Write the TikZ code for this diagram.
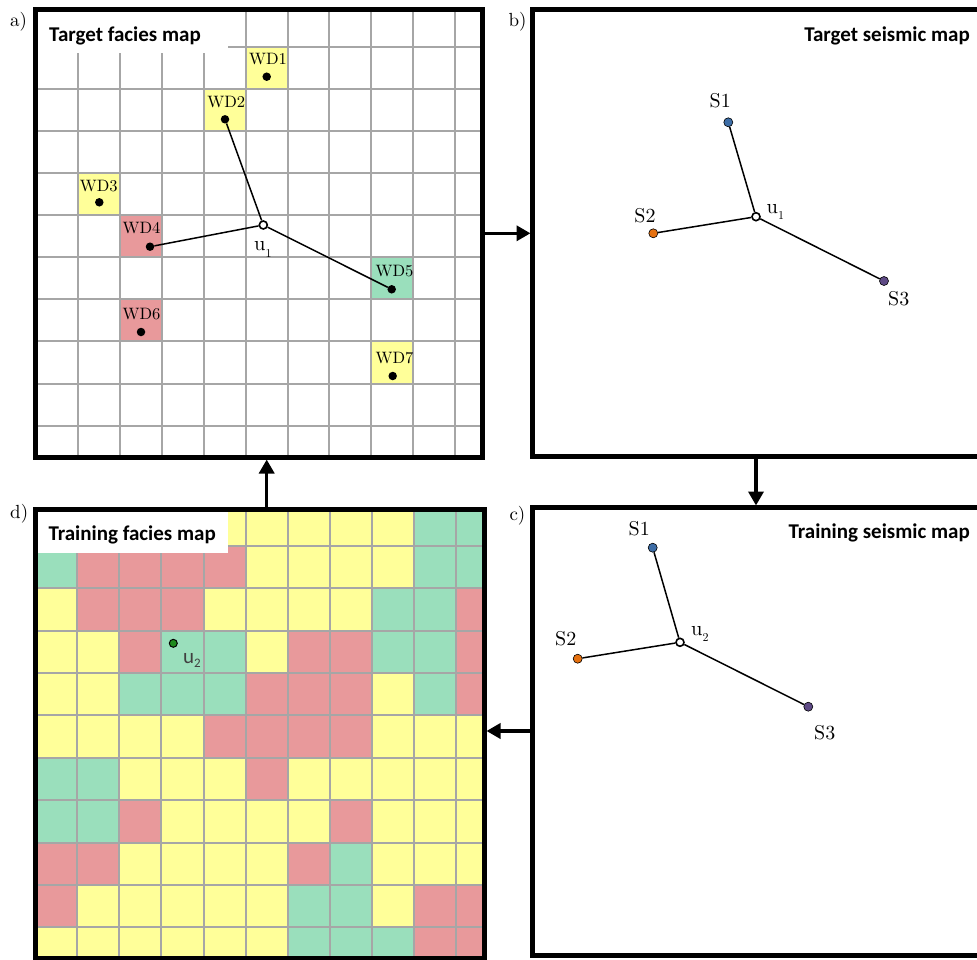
\documentclass[tikz,border=0pt]{standalone}
\usepackage{fontspec}
\newfontfamily\calib{Carlito}
\newfontfamily\lmten{lmroman10-regular}[Extension=.otf]
\usetikzlibrary{arrows.meta}
\definecolor{cY}{HTML}{FFFF99}
\definecolor{cR}{HTML}{E8999B}
\definecolor{cG}{HTML}{9ADFBC}
\definecolor{gridgray}{HTML}{A6A6A6}
\definecolor{sblue}{HTML}{3D6DA6}
\definecolor{sorange}{HTML}{E5700F}
\definecolor{spurple}{HTML}{5E4A85}
\definecolor{udark}{HTML}{1E8A1E}
\definecolor{utext}{HTML}{404040}
\tikzset{
  frame/.style={line width=5pt, draw=black},
  gridline/.style={line width=2pt, draw=gridgray},
  title/.style={font=\calib\bfseries\fontsize{21}{21}\selectfont, inner sep=0pt},
  wdlab/.style={font=\lmten\fontsize{16.5}{16.5}\selectfont, inner sep=0pt},
  slab/.style={font=\lmten\fontsize{20}{20}\selectfont, inner sep=0pt},
  ulab/.style={font=\lmten\fontsize{20.5}{20.5}\selectfont, inner sep=0pt, anchor=base west},
  plab/.style={font=\lmten\fontsize{19}{19}\selectfont, inner sep=0pt, anchor=base west},
  blackdot/.style={circle, fill=black, inner sep=0pt, minimum size=8.5pt},
  opendot/.style={circle, draw=black, fill=white, line width=1.6pt, inner sep=0pt, minimum size=8pt},
  sdot/.style={circle, draw=black, line width=0.6pt, inner sep=0pt, minimum size=9pt},
  link/.style={line width=1.5pt, draw=black},
  arr/.style={line width=3.5pt, draw=black, -{Triangle[length=14pt,width=15pt]}}
}
\newcommand{\usub}[1]{u\raisebox{-6.5pt}{\fontsize{12}{12}\selectfont #1}}
\begin{document}
\begin{tikzpicture}[x=1pt,y=-1pt]
\useasboundingbox (0,0) rectangle (977,960);
\fill[white] (0,0) rectangle (977,960);

% ---------------- panel a ----------------
\begin{scope}
  \clip (35.5,9.5) rectangle (482.5,457.5);
  \foreach \c/\r/\col in {5/1/cY,4/2/cY,1/4/cY,2/5/cR,8/6/cG,2/7/cR,8/8/cY}
    \fill[\col] ({36.44+\c*41.86},{4.6+\r*42.1}) rectangle ++(41.86,42.1);
  \foreach \k in {1,...,10}
    \draw[gridline] ({36.44+\k*41.86},0) -- ({36.44+\k*41.86},470);
  \foreach \k in {1,...,10}
    \draw[gridline] (30,{4.6+\k*42.1}) -- (490,{4.6+\k*42.1});
  \fill[white] (38,12) rectangle (228,53.3);
\end{scope}
\node[title, anchor=base west] (ta) at (49,42) {Target facies map};
\draw[frame] (35.5,9.5) rectangle (482.5,457.5);
\node[plab] (la) at (10,26.7) {a)};

\node[blackdot] (wd1) at (266.7,76.7) {};
\node[blackdot] (wd2) at (225,119.3) {};
\node[blackdot] (wd3) at (99.3,202.3) {};
\node[blackdot] (wd4) at (150,246.7) {};
\node[blackdot] (wd5) at (391.7,289.3) {};
\node[blackdot] (wd6) at (141,332) {};
\node[blackdot] (wd7) at (392.7,376) {};
\node[wdlab] (wd1l) at (268,59.2) {WD1};
\node[wdlab] (wd2l) at (226.2,101.8) {WD2};
\node[wdlab] (wd3l) at (98.8,186) {WD3};
\node[wdlab] (wd4l) at (141.5,228.5) {WD4};
\node[wdlab] (wd5l) at (394.5,270.8) {WD5};
\node[wdlab] (wd6l) at (141.5,314.2) {WD6};
\node[wdlab] (wd7l) at (394.5,358.2) {WD7};
\node[opendot] (ua) at (263.3,225) {};
\draw[link] (ua) -- (wd2);
\draw[link] (ua) -- (wd4);
\draw[link] (ua) -- (wd5);
\node[ulab] (ual) at (254,250.7) {\usub{1}};

% ---------------- panel b ----------------
\draw[frame] (532.5,9.5) rectangle (995,456);
\node[plab] (lb) at (508.3,26.7) {b)};
\node[title, anchor=base east] (tb) at (970,41.7) {Target seismic map};
\node[sdot, fill=sblue] (bs1) at (728.3,122.3) {};
\node[sdot, fill=sorange] (bs2) at (653.3,233.3) {};
\node[sdot, fill=spurple] (bs3) at (884,281) {};
\node[opendot] (ub) at (756,216.7) {};
\draw[link] (ub) -- (bs1);
\draw[link] (ub) -- (bs2);
\draw[link] (ub) -- (bs3);
\node[slab] (bs1l) at (720.3,100.3) {S1};
\node[slab] (bs2l) at (645,215.3) {S2};
\node[slab] (bs3l) at (898.7,298.7) {S3};
\node[ulab] (ubl) at (766.5,213.3) {\usub{1}};

% ---------------- panel c ----------------
\draw[frame] (532,507.5) rectangle (995,955.5);
\node[plab] (lc) at (509.3,520) {c)};
\node[title, anchor=base east] (tc) at (970,538.3) {Training seismic map};
\node[sdot, fill=sblue] (cs1) at (652.7,547.7) {};
\node[sdot, fill=sorange] (cs2) at (577.7,658.7) {};
\node[sdot, fill=spurple] (cs3) at (808.3,706.7) {};
\node[opendot] (uc) at (680,642.3) {};
\draw[link] (uc) -- (cs1);
\draw[link] (uc) -- (cs2);
\draw[link] (uc) -- (cs3);
\node[slab] (cs1l) at (639.2,528.7) {S1};
\node[slab] (cs2l) at (565.8,638.8) {S2};
\node[slab] (cs3l) at (824.7,732.2) {S3};
\node[ulab] (ucl) at (691,635) {\usub{2}};

% ---------------- panel d ----------------
\begin{scope}
  \clip (35.5,509.5) rectangle (484,958);
  \foreach \rowlist [count=\r from 0] in {
    {Y,Y,Y,Y,Y,Y,Y,Y,Y,G,G},
    {G,R,R,R,R,Y,Y,Y,Y,G,G},
    {Y,R,R,R,Y,Y,Y,Y,G,G,R},
    {Y,Y,R,G,G,Y,R,R,G,G,R},
    {Y,Y,G,G,G,R,R,R,Y,G,R},
    {Y,Y,Y,Y,R,R,R,R,Y,Y,Y},
    {G,G,Y,Y,Y,R,Y,Y,Y,Y,Y},
    {G,G,R,Y,Y,Y,Y,R,Y,Y,Y},
    {R,R,Y,Y,Y,Y,R,G,Y,Y,Y},
    {R,Y,Y,Y,Y,Y,G,G,Y,R,R},
    {Y,Y,Y,Y,Y,Y,G,G,G,R,R}}{
    \foreach \cc [count=\c from 0] in \rowlist {
      \fill[c\cc] ({35.22+\c*42.08},{503.63+\r*42.37}) rectangle ++(42.08,42.37);
    }
  }
  \foreach \k in {1,...,10}
    \draw[gridline] ({35.22+\k*42.08},500) -- ({35.22+\k*42.08},965);
  \foreach \k in {1,...,10}
    \draw[gridline] (30,{503.63+\k*42.37}) -- (490,{503.63+\k*42.37});
  \fill[white] (38,512) rectangle (228.3,553.3);
\end{scope}
\node[title, anchor=base west] (td) at (48.3,540) {Training facies map};
\draw[frame] (35.5,509.5) rectangle (484,958);
\node[plab] (ld) at (10,518.3) {d)};
\node[circle, draw=black, fill=udark, line width=1pt, inner sep=0pt, minimum size=8pt] (ud) at (173.3,643.3) {};
\node[font=\calib\fontsize{21}{21}\selectfont, text=utext, inner sep=0pt, anchor=base west] (udl) at (183,663.3) {u\raisebox{-4pt}{\fontsize{13}{13}\selectfont 2}};

% ---------------- arrows ----------------
\coordinate (abS) at (484,233.3);
\coordinate (abE) at (530.5,233.3);
\coordinate (bcS) at (756,457);
\coordinate (bcE) at (756,505.5);
\coordinate (cdS) at (530,731);
\coordinate (cdE) at (486.5,731);
\coordinate (daS) at (266.7,508);
\coordinate (daE) at (266.7,459.5);
\draw[arr] (abS) -- (abE);
\draw[arr] (bcS) -- (bcE);
\draw[arr] (cdS) -- (cdE);
\draw[arr] (daS) -- (daE);
\end{tikzpicture}
\end{document}
